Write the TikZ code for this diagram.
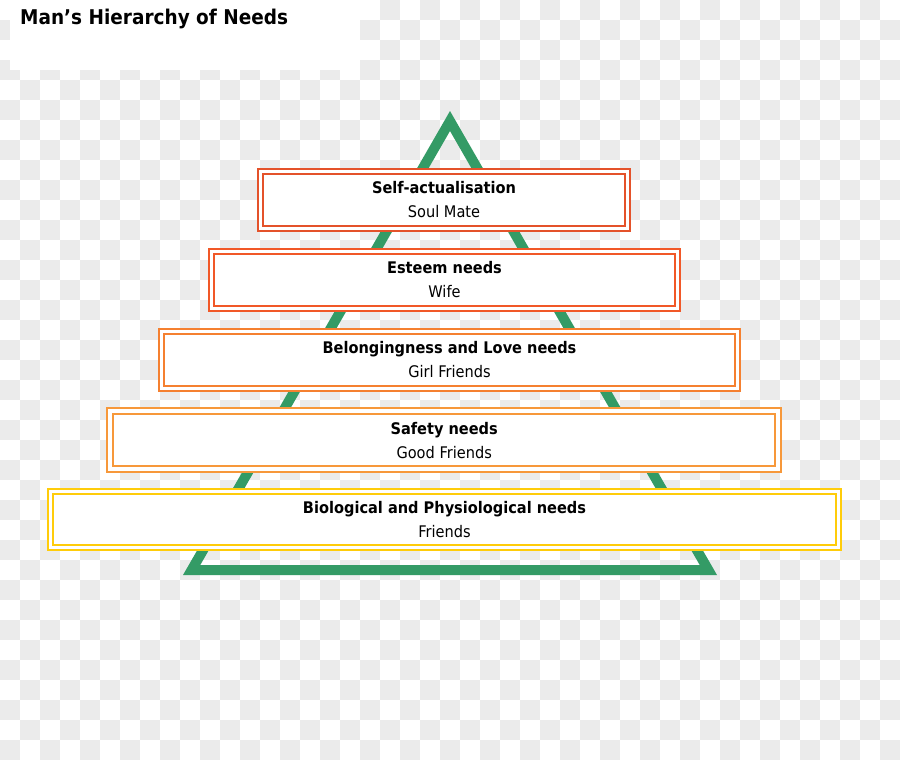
\documentclass[tikz,border=0pt]{standalone}
\usepackage{fontspec}
\setmainfont{DejaVu Sans}[FakeStretch=0.91]
\definecolor{pyrgreen}{RGB}{52,155,102}
\definecolor{checkgray}{RGB}{235,235,235}
\definecolor{selfcol}{RGB}{228,82,42}
\definecolor{esteemcol}{RGB}{241,88,40}
\definecolor{belongcol}{RGB}{245,128,48}
\definecolor{safetycol}{RGB}{247,152,58}
\definecolor{biocol}{RGB}{255,204,10}
\begin{document}
\begin{tikzpicture}[x=1pt, y=-1pt, line join=miter,
  needbox/.style={draw=#1, double=white, double distance=2.6pt, line width=1.9pt,
    fill=white, rectangle, inner sep=0pt, outer sep=0pt, align=center,
    font=\fontsize{16}{24}\selectfont, text=black},
  headline/.style={font=\fontsize{20.3}{24}\selectfont\bfseries, anchor=base west, inner sep=0pt}]
\def\W{900} \def\H{760} % Bildgroesse
\useasboundingbox (0,0) rectangle (\W,\H);
\fill[white] (0,0) rectangle (\W,\H);
% Schachbrett
\foreach \i in {0,...,44}
  \foreach \j in {0,...,37}{
    \pgfmathtruncatemacro\odd{mod(\i+\j,2)}
    \ifnum\odd=1 \fill[checkgray] (20*\i,20*\j) rectangle ++(20,20); \fi
  }
\fill[white] (10,0) rectangle (360,70);
\node[headline] (title) at (20,25) {Man’s Hierarchy of Needs};
% Pyramide
\fill[pyrgreen, even odd rule] (450,111)--(183,575)--(717,575)--cycle
  (450,131)--(200.3,565)--(699.7,565)--cycle;
% Stufen
\node[needbox=biocol, double distance=3.6pt, minimum width=788, minimum height=56] (bio) at (444.5,519.5)
  {\textbf{Biological and Physiological needs}\\Friends};
\node[needbox=safetycol, double distance=4.2pt, minimum width=668, minimum height=58] (safety) at (444.2,440.3)
  {\textbf{Safety needs}\\Good Friends};
\node[needbox=belongcol, minimum width=576, minimum height=57] (belong) at (449.5,360)
  {\textbf{Belongingness and Love needs}\\Girl Friends};
\node[needbox=esteemcol, minimum width=466, minimum height=57] (esteem) at (444.5,280)
  {\textbf{Esteem needs}\\Wife};
\node[needbox=selfcol, minimum width=367, minimum height=57] (selfact) at (444,200)
  {\textbf{Self-actualisation}\\Soul Mate};
\end{tikzpicture}
\end{document}
